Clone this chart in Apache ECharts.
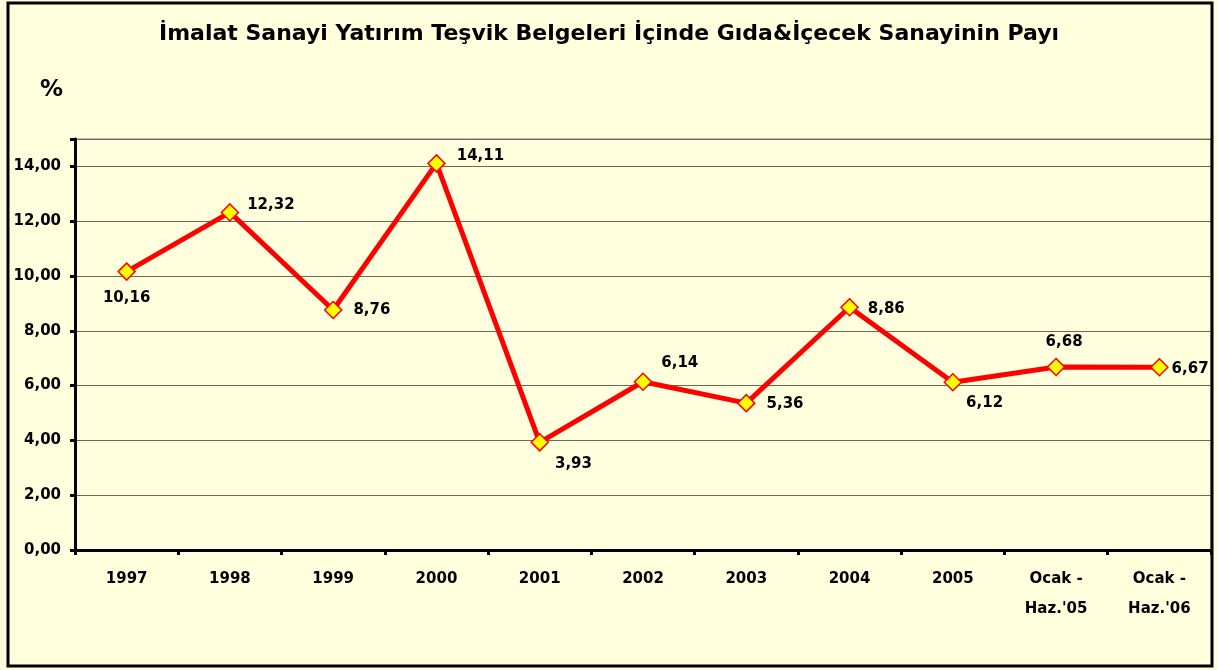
<!DOCTYPE html>
<html><head><meta charset="utf-8">
<script src="https://cdn.jsdelivr.net/npm/echarts@6/dist/echarts.min.js"></script>
<style>html,body{margin:0;padding:0;background:#FFFFDD;}#c{width:1218px;height:670px;}</style>
</head><body><div id="c"></div>
<script>
const categories = ['1997','1998','1999','2000','2001','2002','2003','2004','2005',"Ocak -\nHaz.'05","Ocak -\nHaz.'06"];
const values = [10.16, 12.32, 8.76, 14.11, 3.93, 6.14, 5.36, 8.86, 6.12, 6.68, 6.67];
const labelPositions = ['bottom','right','right','right','right','right','right','right','right','top','right'];
const labelOffsets = [[0,5],[3,-7],[6,0],[6,-7],[1,22],[4,-19],[6,1],[4,2],[-1,21],[8,-3],[-2,2]];
const fmt = v => v.toFixed(2).replace('.', ',');
const chart = echarts.init(document.getElementById('c'));
const font = 'DejaVu Sans, Liberation Sans, Arial, sans-serif';
chart.setOption({
  backgroundColor: '#FFFFDD',
  animation: false,
  title: {text: 'İmalat Sanayi Yatırım Teşvik Belgeleri İçinde Gıda&İçecek Sanayinin Payı', left: 'center', top: 18,
    textStyle: {fontFamily: font, fontSize: 22, fontWeight: 'bold', color: '#000'}},
  graphic: [
    {type: 'rect', shape: {x: 8, y: 3, width: 1204, height: 663}, style: {fill: 'none', stroke: '#000', lineWidth: 3}, z: 100},
    {type: 'text', left: 40, top: 79, style: {text: '%', font: 'bold 23px ' + font, fill: '#000'}}
  ],
  grid: {left: 75, right: 7, top: 139, bottom: 120, show: true, borderColor: '#808080', borderWidth: 1},
  xAxis: {type: 'category', data: categories, boundaryGap: true,
    axisLine: {lineStyle: {color: '#000', width: 3}},
    axisTick: {show: true, length: 5, lineStyle: {color: '#000', width: 3}},
    axisLabel: {fontFamily: font, fontSize: 15, fontWeight: 'bold', color: '#000', margin: 14, lineHeight: 30, interval: 0}},
  yAxis: {type: 'value', min: 0, max: 15, interval: 2,
    axisLine: {show: true, lineStyle: {color: '#000', width: 3}},
    axisTick: {show: true, length: 5, lineStyle: {color: '#000', width: 3}},
    splitLine: {lineStyle: {color: '#6b6b55', width: 1}},
    axisLabel: {fontFamily: font, fontSize: 15, fontWeight: 'bold', color: '#000', margin: 14,
      formatter: v => (v % 2 === 0 ? fmt(v) : '')}},
  series: [{type: 'line', data: values.map((v, i) => ({value: v, label: {position: labelPositions[i], offset: labelOffsets[i]}})),
    lineStyle: {color: '#FF0000', width: 5},
    symbol: 'diamond', symbolSize: 17,
    itemStyle: {color: '#FFFF00', borderColor: '#FF0000', borderWidth: 1.5},
    label: {show: true, formatter: p => fmt(p.value), fontFamily: font, fontSize: 15, fontWeight: 'bold', color: '#000'}}]
});
</script></body></html>
